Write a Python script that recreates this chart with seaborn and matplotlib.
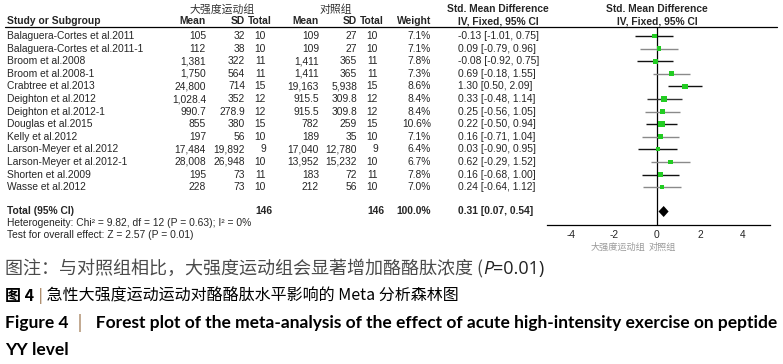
import matplotlib
matplotlib.use("Agg")
import matplotlib.pyplot as plt
import seaborn as sns
import pandas as pd
import numpy as np

# ---------------- data ----------------
studies = ["Balaguera-Cortes et al.2011", "Balaguera-Cortes et al.2011-1", "Broom et al.2008",
           "Broom et al.2008-1", "Crabtree et al.2013", "Deighton et al.2012", "Deighton et al.2012-1",
           "Douglas et al.2015", "Kelly et al.2012", "Larson-Meyer et al.2012",
           "Larson-Meyer et al.2012-1", "Shorten et al.2009", "Wasse et al.2012"]
exp_mean = [105, 112, 1381, 1750, 24800, 1028.4, 990.7, 855, 197, 17484, 28008, 195, 228]
exp_sd = [32, 38, 322, 564, 714, 352, 278.9, 380, 56, 19892, 26948, 73, 73]
exp_n = [10, 10, 11, 11, 15, 12, 12, 15, 10, 9, 10, 11, 10]
ctl_mean = [109, 109, 1411, 1411, 19163, 915.5, 915.5, 782, 189, 17040, 13952, 183, 212]
ctl_sd = [27, 27, 365, 365, 5938, 309.8, 309.8, 259, 35, 12780, 15232, 72, 56]
ctl_n = [10, 10, 11, 11, 15, 12, 12, 15, 10, 9, 10, 11, 10]
weight = [7.1, 7.1, 7.8, 7.3, 8.6, 8.4, 8.4, 10.6, 7.1, 6.4, 6.7, 7.8, 7.0]
smd = [-0.13, 0.09, -0.08, 0.69, 1.30, 0.33, 0.25, 0.22, 0.16, 0.03, 0.62, 0.16, 0.24]
ci_lo = [-1.01, -0.79, -0.92, -0.18, 0.50, -0.48, -0.56, -0.50, -0.71, -0.90, -0.29, -0.68, -0.64]
ci_hi = [0.75, 0.96, 0.75, 1.55, 2.09, 1.14, 1.05, 0.94, 1.04, 0.95, 1.52, 1.00, 1.12]
total_exp, total_ctl, total_w = 146, 146, 100.0
total_smd, total_lo, total_hi = 0.31, 0.07, 0.54
xticks = [-4, -2, 0, 2, 4]
group_exp, group_ctl = "大强度运动组", "对照组"
het_text = "Heterogeneity: Chi\u00b2 = 9.82, df = 12 (P = 0.63); I\u00b2 = 0%"
test_text = "Test for overall effect: Z = 2.57 (P = 0.01)"

# ---------------- layout ----------------
W, H = 783, 364
sns.set_theme(style="white")
plt.rcParams["font.family"] = ["Liberation Sans", "Noto Sans CJK SC", "DejaVu Sans"]

fig = plt.figure(figsize=(W / 100, H / 100), dpi=100)
bg = fig.add_axes([0, 0, 1, 1])
bg.set_xlim(0, W)
bg.set_ylim(H, 0)
bg.axis("off")

FS = 7.4
y0, dy = 36.0, 12.6
rows_y = [y0 + i * dy for i in range(len(studies))]
y_total, y_het, y_test = 211.5, 223.5, 235
hdr1, hdr2, hline = 9.5, 21.5, 27
XL = 7

def fmt(v):
    if float(v).is_integer():
        return f"{int(v):,}"
    return f"{v:,.1f}"

cols = {"em": 206, "es": 245, "en": 266, "cm": 319, "cs": 357, "cn": 378, "w": 431}
hcols = {"em": 206, "es": 245, "en": 272, "cm": 319, "cs": 357, "cn": 384, "w": 431}
cjk = ["Noto Sans CJK SC", "DejaVu Sans"]

# headers
bg.text(222, hdr1, group_exp, fontsize=7.8, family=cjk, ha="center", va="center", color="#333333")
bg.text(336, hdr1, group_ctl, fontsize=7.8, family=cjk, ha="center", va="center", color="#333333")
bg.text(498, hdr1, "Std. Mean Difference", fontsize=FS, weight="bold", ha="center", va="center")
bg.text(657, hdr1, "Std. Mean Difference", fontsize=FS, weight="bold", ha="center", va="center")
bg.text(XL, hdr2, "Study or Subgroup", fontsize=FS, weight="bold", ha="left", va="center")
for key, lab in [("em", "Mean"), ("es", "SD"), ("en", "Total"), ("cm", "Mean"),
                 ("cs", "SD"), ("cn", "Total"), ("w", "Weight")]:
    bg.text(hcols[key], hdr2, lab, fontsize=FS, weight="bold", ha="right", va="center")
bg.text(498, hdr2, "IV, Fixed, 95% CI", fontsize=FS, weight="bold", ha="center", va="center")
bg.text(657, hdr2, "IV, Fixed, 95% CI", fontsize=FS, weight="bold", ha="center", va="center")
bg.plot([5, 777], [hline, hline], color="black", lw=0.9)

# rows
for i, s in enumerate(studies):
    y = rows_y[i]
    bg.text(XL, y, s, fontsize=FS, ha="left", va="center")
    bg.text(cols["em"], y, fmt(exp_mean[i]), fontsize=FS, ha="right", va="center")
    bg.text(cols["es"], y, fmt(exp_sd[i]), fontsize=FS, ha="right", va="center")
    bg.text(cols["en"], y, str(exp_n[i]), fontsize=FS, ha="right", va="center")
    bg.text(cols["cm"], y, fmt(ctl_mean[i]), fontsize=FS, ha="right", va="center")
    bg.text(cols["cs"], y, fmt(ctl_sd[i]), fontsize=FS, ha="right", va="center")
    bg.text(cols["cn"], y, str(ctl_n[i]), fontsize=FS, ha="right", va="center")
    bg.text(cols["w"], y, f"{weight[i]:.1f}%", fontsize=FS, ha="right", va="center")
    bg.text(458, y, f"{smd[i]:.2f} [{ci_lo[i]:.2f}, {ci_hi[i]:.2f}]", fontsize=FS, ha="left", va="center")

bg.text(XL, y_total, "Total (95% CI)", fontsize=FS, weight="bold", ha="left", va="center")
bg.text(hcols["en"], y_total, str(total_exp), fontsize=FS, weight="bold", ha="right", va="center")
bg.text(hcols["cn"], y_total, str(total_ctl), fontsize=FS, weight="bold", ha="right", va="center")
bg.text(cols["w"], y_total, f"{total_w:.1f}%", fontsize=FS, weight="bold", ha="right", va="center")
bg.text(458, y_total, f"{total_smd:.2f} [{total_lo:.2f}, {total_hi:.2f}]", fontsize=FS,
        weight="bold", ha="left", va="center")
bg.text(XL, y_het, het_text, fontsize=FS, ha="left", va="center")
bg.text(XL, y_test, test_text, fontsize=FS, ha="left", va="center")

# ---------------- forest panel ----------------
ax_left, ax_right, ax_top, ax_bot = 547, 770, hline, 224.5
fa = fig.add_axes([ax_left / W, 1 - ax_bot / H, (ax_right - ax_left) / W, (ax_bot - ax_top) / H])
fa.set_facecolor("none")
zero_px = 657
ppu = 21.5
fa.set_xlim((ax_left - zero_px) / ppu, (ax_right - zero_px) / ppu)
fa.set_ylim(ax_bot, ax_top)

df = pd.DataFrame({"study": studies, "smd": smd, "lo": ci_lo, "hi": ci_hi,
                   "weight": weight, "y": rows_y})
line_cols = ["#111111", "#8a8a8a", "#111111", "#8a8a8a", "#111111", "#333333", "#8a8a8a",
             "#111111", "#8a8a8a", "#111111", "#8a8a8a", "#111111", "#8a8a8a"]
fa.hlines(df["y"], df["lo"], df["hi"], colors=line_cols, lw=1.0, zorder=2)
fa.axvline(0, color="black", lw=0.9, zorder=1)
sns.scatterplot(data=df, x="smd", y="y", size="weight", sizes=(9, 22), marker="s",
                color="#22cc22", edgecolor="none", linewidth=0, legend=False, ax=fa, zorder=3)
dh = 5.5
fa.fill([total_lo, total_smd, total_hi, total_smd],
        [y_total, y_total - dh, y_total, y_total + dh], color="black", lw=0, zorder=4)

fa.set_xticks(xticks)
fa.set_xticklabels([str(t) for t in xticks], fontsize=FS)
fa.set_yticks([])
fa.set_xlabel("")
fa.set_ylabel("")
for sp in ["top", "left", "right"]:
    fa.spines[sp].set_visible(False)
fa.spines["bottom"].set_color("black")
fa.spines["bottom"].set_linewidth(0.9)
fa.tick_params(axis="x", direction="out", length=3.5, width=0.9, color="black", pad=0.3)

bg.text(618, 247, group_exp, fontsize=6.6, family=cjk, ha="center", va="center", color="#999999")
bg.text(662, 247, group_ctl, fontsize=6.6, family=cjk, ha="center", va="center", color="#999999")

# ---------------- captions ----------------
renderer = fig.canvas.get_renderer()

def draw_pieces(x, y, pieces):
    for txt, kw in pieces:
        t = bg.text(x, y, txt, ha="left", va="center", **kw)
        bb = t.get_window_extent(renderer=renderer)
        x += bb.width

cap_cn = dict(family=["Noto Sans CJK SC", "DejaVu Sans"])
draw_pieces(5, 269, [
    ("图注：与对照组相比，大强度运动组会显著增加酪酪肽浓度 (", dict(fontsize=13.0, color="#4a4a4a", **cap_cn)),
    ("P", dict(fontsize=13.0, color="#222222", style="italic", family=["Open Sans", "DejaVu Sans"])),
    ("=0.01)", dict(fontsize=13.0, color="#222222", family=["Open Sans", "DejaVu Sans"])),
])
draw_pieces(5, 295.5, [
    ("图 4 ", dict(fontsize=11.5, color="black", weight="bold", **cap_cn)),
    ("|", dict(fontsize=11.5, color="#b09070", family=["DejaVu Sans"])),
    (" 急性大强度运动运动对酪酪肽水平影响的 Meta 分析森林图", dict(fontsize=11.5, color="black", **cap_cn)),
])
draw_pieces(5, 323, [
    ("Figure 4  ", dict(fontsize=12.5, color="black", weight="bold", family=["Lato", "DejaVu Sans"])),
    ("|", dict(fontsize=12.5, color="#b09070", family=["DejaVu Sans"])),
    ("   Forest plot of the meta-analysis of the effect of acute high-intensity exercise on peptide",
     dict(fontsize=12.5, color="black", weight="bold", family=["Lato", "DejaVu Sans"])),
])
draw_pieces(5, 350, [
    ("YY level", dict(fontsize=12.5, color="black", weight="bold", family=["Lato", "DejaVu Sans"])),
])

fig.savefig("out.png", dpi=100, facecolor="white")
